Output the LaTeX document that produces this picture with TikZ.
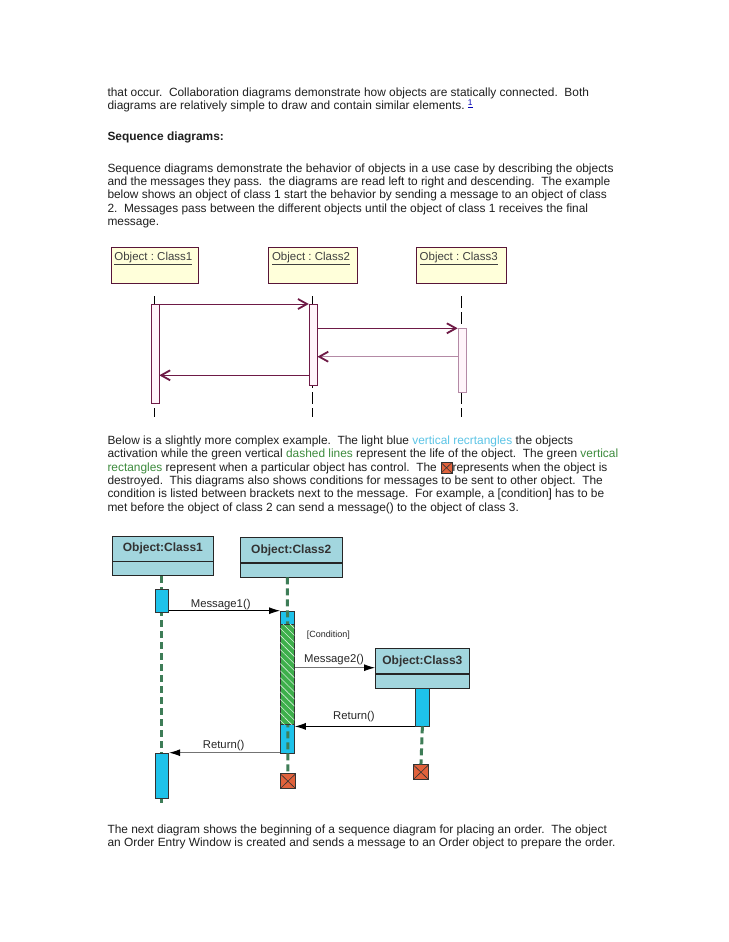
\documentclass[tikz,border=0pt]{standalone}
\usepackage{fontspec}
\setmainfont{Liberation Sans}
\usetikzlibrary{arrows.meta,patterns.meta,positioning}
\frenchspacing
\definecolor{seqred}{HTML}{6E1A46}
\definecolor{seqpale}{HTML}{B48AA6}
\definecolor{notecream}{HTML}{FFFFDA}
\definecolor{actpink}{HTML}{FFF4FA}
\definecolor{linkblue}{HTML}{5BC4E6}
\definecolor{txtgreen}{HTML}{3D8B3D}
\definecolor{lifegreen}{HTML}{3E7D57}
\definecolor{actcyan}{HTML}{1EC2EA}
\definecolor{boxcyan}{HTML}{A2D6DE}
\definecolor{ctrlgreen}{HTML}{3DAF4B}
\definecolor{killred}{HTML}{E0623C}
\tikzset{
  txt/.style={anchor=base west, inner sep=0pt, text=black!88, font=\fontsize{11.9}{13.3}\selectfont},
  objbox/.style={draw=seqred!80!black, fill=notecream, line width=0.8pt, inner sep=0pt, anchor=north west, minimum height=35.4},
  objlbl/.style={anchor=base west, inner sep=0pt, text=black!75, font=\fontsize{11.5}{13}\selectfont},
  lifethin/.style={black, line width=0.8pt, dash pattern=on 12pt off 4pt},
  actbox/.style={draw=seqred, fill=actpink, line width=0.8pt, inner sep=0pt, anchor=north west, minimum width=7.8},
  msg/.style={seqred, line width=1pt, -{Straight Barb[length=9pt,width=10pt,line width=1.8pt]}},
  retmsg/.style={seqpale, line width=1pt, -{Straight Barb[length=9pt,width=10pt,line width=1.8pt,color=seqred]}},
  clshead/.style={draw=black!85, fill=boxcyan, line width=0.8pt, inner sep=0pt, anchor=north west, minimum height=24.5, font=\fontsize{12}{14}\bfseries, text=black!80},
  clsfoot/.style={draw=black!85, fill=boxcyan, line width=0.8pt, inner sep=0pt, minimum height=14},
  lifethick/.style={lifegreen, line width=3pt, dash pattern=on 7pt off 4pt},
  cyanact/.style={draw=black!80, fill=actcyan, line width=0.8pt, inner sep=0pt, anchor=north west, minimum width=14},
  ctrlact/.style={draw=black!80, fill=ctrlgreen, line width=0.8pt, inner sep=0pt, anchor=north west, minimum width=14,
    postaction={pattern={Lines[angle=-45,distance=5pt,line width=0.6pt]}, pattern color=white!80!ctrlgreen}},
  killbox/.style={draw=black!80, fill=killred, line width=0.8pt, inner sep=0pt, anchor=north west, minimum width=15.5, minimum height=15,
    path picture={\draw[black!80, line width=0.6pt] (path picture bounding box.north west) -- (path picture bounding box.south east)
      (path picture bounding box.south west) -- (path picture bounding box.north east);}},
  sendmsg/.style={black, line width=0.9pt, -{Latex[length=11pt,width=7pt]}},
  graymsg/.style={black!55, line width=0.9pt, -{Latex[length=11pt,width=7pt,color=black]}},
  msglbl/.style={anchor=base west, inner sep=0pt, text=black!85, font=\fontsize{11.3}{13}\selectfont},
  condlbl/.style={anchor=base west, inner sep=0pt, text=black!85, font=\fontsize{9}{11}\selectfont},
}
\begin{document}
\begin{tikzpicture}[x=1pt,y=-1pt]
\path[fill=white] (0,0) rectangle (728,942);

% page text
\node (p1a) [txt] at (107.3,96.5) {that occur.~ Collaboration diagrams demonstrate how objects are statically connected.~ Both};
\node (p1b) [txt] at (107.3,109.8) {diagrams are relatively simple to draw and contain similar elements. \textsuperscript{\color{blue!70!black}\underline{1}}};
\node (hd) [txt, font=\fontsize{11.9}{13.3}\bfseries] at (107.3,140) {Sequence diagrams:};
\node (p2a) [txt] at (107.3,172) {Sequence diagrams demonstrate the behavior of objects in a use case by describing the objects};
\node (p2b) [txt] at (107.3,185.3) {and the messages they pass.~ the diagrams are read left to right and descending.~ The example};
\node (p2c) [txt] at (107.3,198.6) {below shows an object of class 1 start the behavior by sending a message to an object of class};
\node (p2d) [txt] at (107.3,212) {2.~ Messages pass between the different objects until the object of class 1 receives the final};
\node (p2e) [txt] at (107.3,225.3) {message.};

\node (p3a) [txt] at (107.3,444.5) {Below is a slightly more complex example.~ The light blue \textcolor{linkblue}{vertical recrtangles} the objects};
\node (p3b) [txt] at (107.3,457.8) {activation while the green vertical \textcolor{txtgreen}{dashed lines} represent the life of the object.~ The green \textcolor{txtgreen}{vertical}};
\node (p3c) [txt] at (107.3,471.1) {\textcolor{txtgreen}{rectangles} represent when a particular object has control.~ The};
\node (xmark) [killbox, minimum width=11, minimum height=10.6] at ([xshift=3.5pt,yshift=9pt]p3c.base east) {};
\node (p3d) [txt] at (xmark.east |- p3c.base) {represents when the object is};
\node (p3e) [txt] at (107.3,484.4) {destroyed.~ This diagrams also shows conditions for messages to be sent to other object.~ The};
\node (p3f) [txt] at (107.3,497.7) {condition is listed between brackets next to the message.~ For example, a [condition] has to be};
\node (p3g) [txt] at (107.3,511) {met before the object of class 2 can send a message() to the object of class 3.};

\node (p4a) [txt] at (107.3,833) {The next diagram shows the beginning of a sequence diagram for placing an order.~ The object};
\node (p4b) [txt] at (107.3,846.3) {an Order Entry Window is created and sends a message to an Order object to prepare the order.};

% first sequence diagram
\node (c1) [objbox, minimum width=87.6] at (110.7,247.3) {};
\node (c2) [objbox, minimum width=89] at (268.3,247.3) {};
\node (c3) [objbox, minimum width=90] at (416,247.3) {};
\node (c1t) [objlbl] at ([xshift=3.5pt,yshift=-13pt]c1.north west) {\underline{Object : Class1}};
\node (c2t) [objlbl] at ([xshift=3.5pt,yshift=-13pt]c2.north west) {\underline{Object : Class2}};
\node (c3t) [objlbl] at ([xshift=3.5pt,yshift=-13pt]c3.north west) {\underline{Object : Class3}};
\coordinate (l1top) at (154.6,296);
\coordinate (l1bot) at (154.6,417);
\coordinate (l2top) at (312.7,296);
\coordinate (l2bot) at (312.7,417);
\coordinate (l3top) at (461.6,296);
\coordinate (l3bot) at (461.6,417);
\draw[lifethin] (l1top) -- (l1bot);
\draw[lifethin] (l2top) -- (l2bot);
\draw[lifethin] (l3top) -- (l3bot);
\node (a1) [actbox, minimum height=99.3] at (150.7,304) {};
\node (a2) [actbox, minimum height=81.3] at (308.8,304) {};
\node (a3) [actbox, draw=seqpale, minimum height=63.4] at (457.7,328.3) {};
\coordinate (r1) at (0,356.7);
\coordinate (r2) at (0,375.3);
\draw[msg] (a1.north east) -- (a2.north west);
\draw[msg] (a2.east |- a3.north west) -- (a3.north west);
\draw[retmsg] (a3.west |- r1) -- (a2.east |- r1);
\draw[msg] (a2.west |- r2) -- (a1.east |- r2);

% second sequence diagram
\node (d1) [clshead, minimum width=101.6] at (111.7,536) {Object:Class1};
\node (d1b) [clsfoot, minimum width=101.6, below=0pt of d1] {};
\node (d2) [clshead, minimum width=101.7] at (240,537.3) {Object:Class2};
\node (d2b) [clsfoot, minimum width=101.7, below=0pt of d2] {};
\node (d3) [clshead, minimum width=94] at (375,648.3) {Object:Class3};
\node (d3b) [clsfoot, minimum width=94, below=0pt of d3] {};

\coordinate (end1) at (161.6,806);
\draw[lifethick] (d1b.south -| end1) -- (end1);
\node (e1) [cyanact, minimum width=13.3, minimum height=23] at (155,589.3) {};
\node (e2) [cyanact, minimum width=13.3, minimum height=45] at (155,753.3) {};

\node (f1) [cyanact, minimum height=142.3] at (280,611) {};
\node (k2) [killbox] at (279.8,773.3) {};
\draw[lifethick] (d2b.south -| f1) -- (k2.north);
\node (g1) [ctrlact, minimum height=100] at (280,624) {};

\node (h3) [cyanact, minimum width=14.4, minimum height=37.2, below=0pt of d3b] {};
\node (k3) [killbox] at (412.8,764.3) {};
\draw[lifethick] (h3.south) -- (k3.north);

\coordinate (m1) at (0,610.7);
\coordinate (m2) at (0,667.7);
\coordinate (rt2) at (0,752.7);
\draw[sendmsg] (e1.east |- m1) -- (f1.west |- m1);
\draw[graymsg] (g1.east |- m2) -- (d3.west |- m2);
\draw[sendmsg] (h3.south west) -- (g1.east |- h3.south west);
\draw[graymsg] (f1.west |- rt2) -- (e2.east |- rt2);

\node (m1l) [msglbl] at (190.7,607.3) {Message1()};
\node (cndl) [condlbl] at (306.7,637.3) {[Condition]};
\node (m2l) [msglbl] at (304,662.3) {Message2()};
\node (rt1l) [msglbl] at (333,719) {Return()};
\node (rt2l) [msglbl] at (202.7,748) {Return()};
\end{tikzpicture}
\end{document}
